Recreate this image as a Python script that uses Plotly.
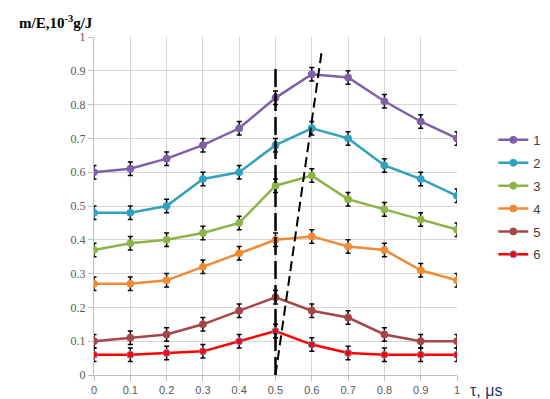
import plotly.graph_objects as go

tau = [0, 0.1, 0.2, 0.3, 0.4, 0.5, 0.6, 0.7, 0.8, 0.9, 1.0]
s1 = [0.60, 0.61, 0.64, 0.68, 0.73, 0.82, 0.89, 0.88, 0.81, 0.75, 0.70]
s2 = [0.48, 0.48, 0.50, 0.58, 0.60, 0.68, 0.73, 0.70, 0.62, 0.58, 0.53]
s3 = [0.37, 0.39, 0.40, 0.42, 0.45, 0.56, 0.59, 0.52, 0.49, 0.46, 0.43]
s4 = [0.27, 0.27, 0.28, 0.32, 0.36, 0.40, 0.41, 0.38, 0.37, 0.31, 0.28]
s5 = [0.10, 0.11, 0.12, 0.15, 0.19, 0.23, 0.19, 0.17, 0.12, 0.10, 0.10]
s6 = [0.06, 0.06, 0.065, 0.07, 0.10, 0.13, 0.09, 0.065, 0.06, 0.06, 0.06]
err = 0.02
names = ["1", "2", "3", "4", "5", "6"]
series = [s1, s2, s3, s4, s5, s6]
colors = ["#7F5FA8", "#31A2BE", "#8DB449", "#F08A35", "#A6464B", "#FF0000"]
yticks = [0, 0.1, 0.2, 0.3, 0.4, 0.5, 0.6, 0.7, 0.8, 0.9, 1.0]
tick_text = ["0", "0.1", "0.2", "0.3", "0.4", "0.5", "0.6", "0.7", "0.8", "0.9", "1"]

# dashed guide lines
vline_x = [0.5, 0.5]
vline_y = [0.0, 0.905]
tline_x = [0.5, 0.627]
tline_y = [0.0, 0.955]

fig = go.Figure()
for nm, ys, c in zip(names, series, colors):
    fig.add_trace(go.Scatter(
        x=tau, y=ys, name=nm, mode="lines+markers",
        line=dict(color=c, width=2.5),
        marker=dict(size=7, color=c,
                    line=dict(color="#6A8FD0" if nm == "6" else c, width=1)),
        error_y=dict(type="constant", value=err, color="black",
                     thickness=1.5, width=2.5),
        legendgroup=nm,
    ))

fig.add_trace(go.Scatter(x=vline_x, y=vline_y, mode="lines", showlegend=False,
                         line=dict(color="black", width=2.5, dash="18px,6px")))
fig.add_trace(go.Scatter(x=tline_x, y=tline_y, mode="lines", showlegend=False,
                         line=dict(color="black", width=2, dash="10px,5px")))

axis_common = dict(
    range=[0, 1], tickmode="array", ticktext=tick_text,
    showgrid=True, gridcolor="#D6D6D6", gridwidth=1,
    showline=True, linecolor="#BFBFBF", linewidth=1,
    ticks="outside", ticklen=5, tickcolor="#BFBFBF", zeroline=False,
)

fig.update_layout(
    width=550, height=399,
    margin=dict(l=86, r=84, t=29, b=32),
    paper_bgcolor="white", plot_bgcolor="white",
    showlegend=True,
    legend=dict(x=1.10, y=0.74, xanchor="left", yanchor="top",
                font=dict(family="Liberation Sans", size=13, color="#404040"),
                tracegroupgap=3, bgcolor="rgba(0,0,0,0)",
                itemwidth=30),
    xaxis=dict(tickvals=tau,
               tickfont=dict(family="Liberation Sans", size=11, color="#595959"),
               **axis_common),
    yaxis=dict(tickvals=yticks,
               tickfont=dict(family="Liberation Serif", size=12, color="#595959"),
               **axis_common),
    annotations=[
        dict(text="<b>m/E,10<sup>-3</sup>g/J</b>", xref="paper", yref="paper",
             x=-0.213, y=1.044, xanchor="left", yanchor="middle", showarrow=False,
             font=dict(family="Liberation Serif", size=15, color="black")),
        dict(text="τ, μs", xref="paper", yref="paper",
             x=1.03, y=-0.047, xanchor="left", yanchor="middle", showarrow=False,
             font=dict(family="Liberation Sans", size=16, color="#1F3A6B")),
    ],
)

fig.write_html("out.html")
